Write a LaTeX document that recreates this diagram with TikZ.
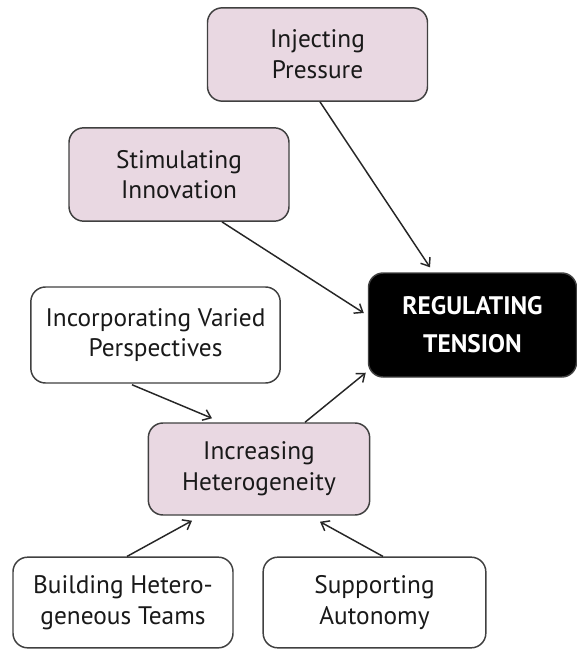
\documentclass[tikz,border=0pt]{standalone}
\usepackage{fontspec}
\setmainfont{PT Sans}
\usetikzlibrary{arrows.meta,calc}

\definecolor{mauve}{RGB}{233,216,226}
\definecolor{edge}{RGB}{64,64,64}

\begin{document}
\begin{tikzpicture}[x=0.75pt,y=-0.75pt,
        box/.style={draw=edge, line width=1.1pt, rounded corners=11pt, align=center,
            font=\fontsize{19}{23}\selectfont, text=black!90, inner sep=0pt},
        pinkbox/.style={box, fill=mauve},
        whitebox/.style={box, fill=white},
        arr/.style={-{Straight Barb[length=5.5pt,width=8.5pt]}, line width=1.1pt, draw=black!85}]

        \useasboundingbox (0,0) rectangle (577,650);

        \def \bw {165pt}
        \def \bh {70pt}

        \node[pinkbox, minimum width=\bw, minimum height=\bh] (inject) at (317.5,54.5) {Injecting\\Pressure};
        \node[pinkbox, minimum width=\bw, minimum height=\bh] (stim) at (179,174.5) {Stimulating\\Innovation};
        \node[whitebox, minimum width=187pt, minimum height=72pt] (incorp) at (155.5,335) {Incorporating Varied\\Perspectives};
        \node[pinkbox, minimum width=166pt, minimum height=69pt] (incr) at (259,469) {Increasing\\Heterogeneity};
        \node[whitebox, minimum width=\bw, minimum height=68pt] (build) at (123,602.5) {Building Hetero-\\geneous Teams};
        \node[whitebox, minimum width=167pt, minimum height=68pt] (supp) at (374.5,602.5) {Supporting\\Autonomy};

        % the goal
        \node[box, fill=black, text=white, minimum width=156pt, minimum height=78pt,
            font=\fontsize{19}{28.5}\selectfont\bfseries] (regul) at (472.5,325) {REGULATING\\TENSION};

        \draw[arr] ($(inject.south)+(2.5,0)$) -- ($(regul.north)+(-42.5,-5)$);
        \draw[arr] ($(stim.south)+(43,0)$) -- ($(regul.west)+(-4,-12)$);
        \draw[arr] ($(incorp.south)+(-23.5,1)$) -- ($(incr.north)+(-47,-4)$);
        \draw[arr] ($(incr.north)+(46,0)$) -- ($(regul.south west)+(-2,-5)$);
        \draw[arr] ($(build.north)+(4,0)$) -- ($(incr.south)+(-67,5)$);
        \draw[arr] ($(supp.north)+(8.5,0)$) -- ($(incr.south)+(61,6)$);

\end{tikzpicture}
\end{document}
